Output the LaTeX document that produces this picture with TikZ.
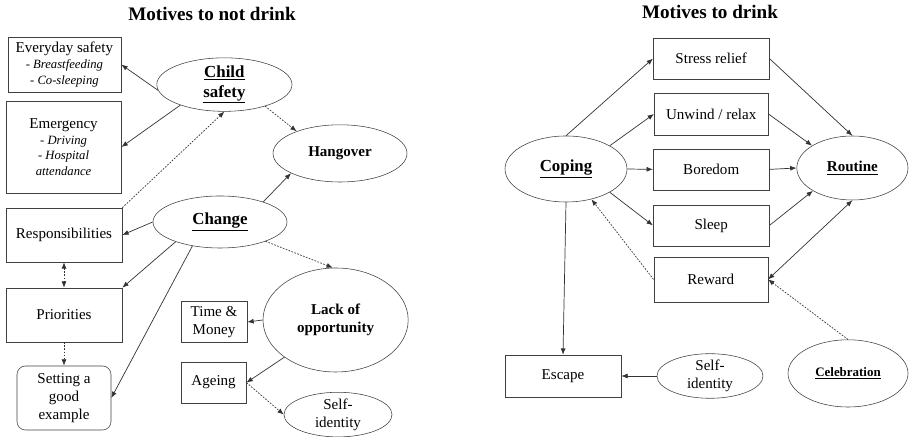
\documentclass[tikz,border=0pt]{standalone}
\usepackage{fontspec}
\setmainfont{Liberation Serif}
\usetikzlibrary{arrows.meta,shapes.geometric}

\newcommand{\bodytxt}{\fontsize{10.7}{12.6}\selectfont}
\newcommand{\listtxt}{\fontsize{10.7}{11.1}\selectfont}
\newcommand{\subtxt}{\fontsize{9}{11.3}\selectfont\itshape}
\newcommand{\bigbold}{\fontsize{12}{14}\selectfont\bfseries}
\newcommand{\midbold}{\fontsize{10.7}{12.9}\selectfont\bfseries}
\newcommand{\smallbold}{\fontsize{9.2}{11}\selectfont\bfseries}
\newcommand{\titletxt}{\fontsize{13.6}{16}\selectfont\bfseries}

\tikzset{
  box/.style={draw=black!75, rectangle, inner sep=0pt, align=center, font=\bodytxt},
  oval/.style={draw=black!75, ellipse, inner sep=0pt, align=center, font=\bodytxt},
  link/.style={draw=black!80, line width=0.5pt, -{Latex[length=4.5pt,width=3.5pt]}},
  dotlink/.style={link, dash pattern=on 1.2pt off 1pt},
}

\begin{document}
\begin{tikzpicture}

\useasboundingbox (0,0) rectangle (22.725,10.925) ;

% titles
\node (title1) at (5.3,10.575) {\titletxt Motives to not drink} ;
\node (title2) at (17.75,10.625) {\titletxt Motives to drink} ;

% motives to not drink
\node [box, minimum width=2.83cm, minimum height=1.38cm, font=\listtxt] (everyday) at (1.61,9.31)
  {Everyday safety\\{\subtxt - Breastfeeding}\\{\subtxt - Co-sleeping}} ;
\node [box, minimum width=2.88cm, minimum height=2.3cm, font=\listtxt] (emergency) at (1.59,7.25)
  {Emergency\\{\subtxt - Driving}\\{\subtxt - Hospital}\\{\subtxt attendance}} ;
\node [oval, minimum width=3.38cm, minimum height=1.28cm, font=\bigbold] (child) at (5.61,8.81)
  {\underline{Child}\\\underline{safety}} ;
\node [oval, minimum width=3.35cm, minimum height=1.43cm, font=\midbold] (hangover) at (8.5,7.09) {Hangover} ;
\node [oval, minimum width=3.35cm, minimum height=1.3cm, font=\bigbold] (change) at (5.5,5.375) {\underline{Change}} ;
\node [box, minimum width=2.9cm, minimum height=1.35cm] (resp) at (1.6,5.05) {Responsibilities} ;
\node [box, minimum width=2.9cm, minimum height=1.35cm] (prio) at (1.6,3.05) {Priorities} ;
\node [box, rounded corners=6pt, minimum width=2.35cm, minimum height=1.6cm] (setting) at (1.6,0.975)
  {Setting a\\good\\example} ;
\node [box, minimum width=1.65cm, minimum height=1.03cm] (time) at (5.35,2.875) {Time \&\\Money} ;
\node [box, minimum width=1.63cm, minimum height=1.03cm] (ageing) at (5.34,1.36) {Ageing} ;
\node [oval, minimum width=3.63cm, minimum height=2.6cm, font=\midbold] (lack) at (8.39,2.925)
  {Lack of\\opportunity} ;
\node [oval, minimum width=2.7cm, minimum height=1.03cm] (selfA) at (8.45,0.56) {Self-\\identity} ;

\draw [link] (child.185) -- (everyday.east) ;
\draw [link] (child.205) -- (emergency.east) ;
\draw [dotlink] (child.-28) -- (hangover.153) ;
\draw [dotlink] (resp.north east) -- (child.-90) ;
\draw [link] (change.25) -- (hangover.202) ;
\draw [link] (change.180) -- (resp.east) ;
\draw [link] (change.204) -- (prio.north east) ;
\draw [link] (change.221) -- (setting.east) ;
\draw [dotlink] (change.-23) -- (lack.93) ;
\draw [dotlink, {Latex[length=4.5pt,width=3.5pt]}-{Latex[length=4.5pt,width=3.5pt]}] (resp.south) -- (prio.north) ;
\draw [dotlink] (prio.south) -- (setting.north) ;
\draw [link] (lack.west) -- (time.east) ;
\draw [link] (lack.216) -- (ageing.east) ;
\draw [dotlink] (ageing.east) -- (selfA.west) ;

% motives to drink
\node [box, minimum width=2.9cm, minimum height=1.03cm] (stress) at (17.78,9.46) {Stress relief} ;
\node [box, minimum width=2.85cm, minimum height=1.05cm] (unwind) at (17.78,8.075) {Unwind / relax} ;
\node [box, minimum width=2.9cm, minimum height=1.03cm] (boredom) at (17.78,6.69) {Boredom} ;
\node [box, minimum width=2.9cm, minimum height=1.03cm] (sleep) at (17.78,5.29) {Sleep} ;
\node [box, minimum width=2.85cm, minimum height=1.13cm] (reward) at (17.77,3.94) {Reward} ;
\node [oval, minimum width=3.05cm, minimum height=1.65cm, font=\bigbold] (coping) at (14.15,6.7) {\underline{Coping}} ;
\node [oval, minimum width=2.78cm, minimum height=1.6cm, font=\midbold] (routine) at (21.31,6.725) {\underline{Routine}} ;
\node [box, minimum width=2.9cm, minimum height=1.05cm] (escape) at (14.075,1.525) {Escape} ;
\node [oval, minimum width=2.65cm, minimum height=1.05cm] (selfB) at (17.75,1.525) {Self-\\identity} ;
\node [oval, minimum width=3.0cm, minimum height=1.68cm, font=\smallbold] (celeb) at (21.2,1.59) {\underline{Celebration}} ;

\draw [link] (coping.north) -- (stress.west) ;
\draw [link] (coping.28) -- (unwind.west) ;
\draw [link] (coping.east) -- (boredom.west) ;
\draw [link] (coping.-28) -- (sleep.west) ;
\draw [link] (coping.south) -- (escape.north) ;
\draw [dotlink] (reward.west) -- (coping.-50) ;
\draw [link] (stress.east) -- (routine.north) ;
\draw [link] (unwind.east) -- (routine.151) ;
\draw [link] (boredom.east) -- (routine.west) ;
\draw [link] (sleep.east) -- (routine.210) ;
\draw [link, {Latex[length=4.5pt,width=3.5pt]}-{Latex[length=4.5pt,width=3.5pt]}] (reward.east) -- (routine.south) ;
\draw [dotlink] (celeb.north) -- (reward.east) ;
\draw [link] (selfB.west) -- (escape.east) ;

\end{tikzpicture}
\end{document}
